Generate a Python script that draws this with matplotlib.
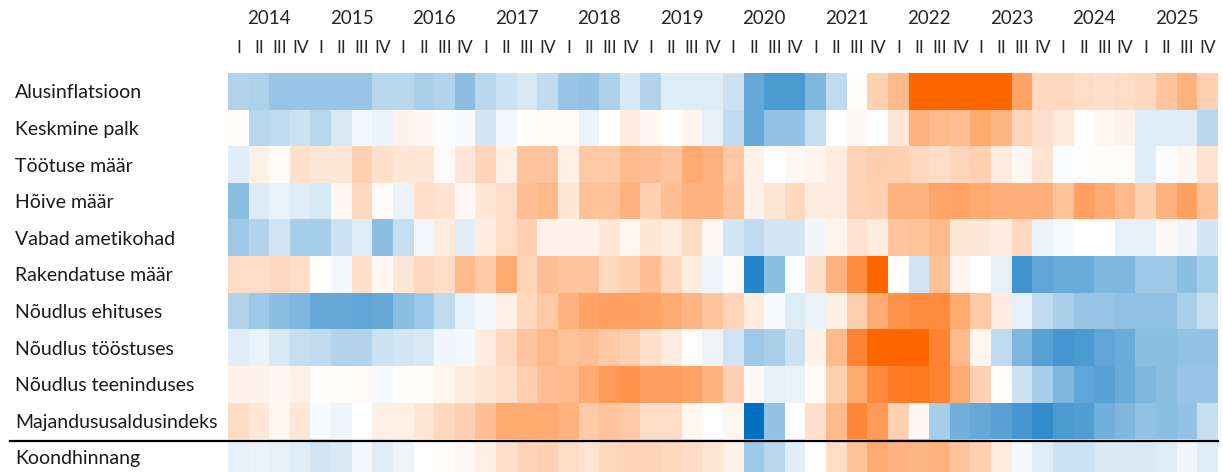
import numpy as np
import matplotlib
matplotlib.use("Agg")
import matplotlib.pyplot as plt
from matplotlib.colors import LinearSegmentedColormap
from matplotlib.lines import Line2D

years = [str(y) for y in range(2014, 2026)]
quarters = ["I", "II", "III", "IV"]

indicators = ["Alusinflatsioon", "Keskmine palk", "Töötuse määr", "Hõive määr",
              "Vabad ametikohad", "Rakendatuse määr", "Nõudlus ehituses",
              "Nõudlus tööstuses", "Nõudlus teeninduses", "Majandususaldusindeks",
              "Koondhinnang"]

# scores per quarter 2014 I ... 2025 IV, -1 = strongest blue, +1 = strongest orange
alusinflatsioon = [-0.3, -0.32, -0.4, -0.4, -0.4, -0.4, -0.4, -0.28, -0.28, -0.34, -0.3, -0.45, -0.28, -0.2, -0.15, -0.25,
                   -0.4, -0.42, -0.32, -0.15, -0.3, -0.13, -0.13, -0.13, -0.2, -0.6, -0.7, -0.7, -0.5, -0.25, 0.02, 0.3,
                   0.45, 1.0, 1.0, 1.0, 1.0, 1.0, 0.6, 0.25, 0.25, 0.22, 0.2, 0.22, 0.25, 0.38, 0.5, 0.3]
keskmine_palk = [0.02, -0.28, -0.25, -0.2, -0.28, -0.15, -0.04, -0.08, 0.08, 0.04, -0.02, -0.03, -0.17, -0.05, 0.01, 0.03,
                 0.03, -0.08, 0.0, 0.12, 0.05, 0.0, 0.07, -0.1, -0.25, -0.6, -0.42, -0.42, -0.22, 0.0, 0.04, 0.0,
                 0.15, 0.5, 0.45, 0.42, 0.55, 0.48, 0.28, 0.2, 0.14, 0.0, 0.06, 0.08, -0.13, -0.13, -0.13, -0.28]
tootuse_maar = [-0.12, 0.1, 0.03, 0.2, 0.15, 0.15, 0.3, 0.2, 0.15, 0.15, 0.03, 0.15, 0.28, 0.1, 0.38, 0.38,
                0.1, 0.35, 0.35, 0.45, 0.42, 0.38, 0.55, 0.5, 0.35, 0.08, 0.0, 0.05, 0.07, 0.12, 0.28, 0.32,
                0.3, 0.25, 0.22, 0.27, 0.3, 0.12, 0.05, 0.18, -0.02, 0.01, 0.02, 0.02, -0.12, -0.02, 0.06, 0.18]
hoive_maar = [-0.45, -0.14, -0.08, -0.12, -0.16, 0.05, 0.25, 0.03, -0.08, 0.2, 0.18, 0.04, 0.15, 0.22, 0.42, 0.45,
              0.15, 0.4, 0.4, 0.5, 0.3, 0.42, 0.5, 0.5, 0.38, 0.08, 0.15, 0.25, 0.12, 0.12, 0.28, 0.3,
              0.5, 0.5, 0.58, 0.6, 0.55, 0.52, 0.52, 0.52, 0.4, 0.62, 0.55, 0.45, 0.3, 0.5, 0.62, 0.4]
vabad_ametikohad = [-0.38, -0.3, -0.18, -0.35, -0.35, -0.2, -0.13, -0.45, -0.22, -0.05, 0.12, -0.12, 0.12, 0.22, 0.3, 0.08,
                    0.08, 0.08, 0.15, 0.06, 0.15, 0.12, 0.22, 0.04, -0.17, -0.25, -0.17, -0.17, -0.06, 0.07, 0.18, 0.12,
                    0.38, 0.4, 0.45, 0.15, 0.15, 0.12, 0.25, -0.08, -0.03, 0.0, 0.0, -0.1, -0.1, 0.04, -0.06, -0.17]
rakendatuse_maar = [0.22, 0.22, 0.25, 0.22, 0.0, -0.04, 0.2, 0.05, 0.15, 0.25, 0.22, 0.45, 0.35, 0.55, 0.28, 0.42,
                    0.38, 0.38, 0.25, 0.3, 0.42, 0.25, 0.12, -0.07, 0.03, -0.85, -0.45, -0.01, 0.2, 0.5, 0.75, 1.0,
                    0.02, -0.18, 0.4, 0.07, 0.0, -0.1, -0.75, -0.62, -0.58, -0.58, -0.5, -0.5, -0.38, -0.38, -0.45, -0.35]
noudlus_ehituses = [-0.3, -0.38, -0.45, -0.5, -0.6, -0.6, -0.62, -0.6, -0.45, -0.38, -0.25, -0.1, -0.04, 0.1, 0.25, 0.35,
                    0.5, 0.6, 0.62, 0.62, 0.6, 0.55, 0.48, 0.38, 0.28, 0.12, -0.03, -0.13, -0.08, 0.1, 0.32, 0.55,
                    0.7, 0.75, 0.75, 0.55, 0.35, 0.12, -0.1, -0.25, -0.33, -0.4, -0.4, -0.43, -0.43, -0.43, -0.33, -0.22]
noudlus_toostuses = [-0.12, -0.08, -0.16, -0.22, -0.25, -0.3, -0.3, -0.2, -0.17, -0.15, -0.06, -0.04, 0.12, 0.25, 0.38, 0.45,
                     0.4, 0.42, 0.35, 0.3, 0.2, 0.12, 0.01, -0.07, -0.18, -0.38, -0.33, -0.2, 0.08, 0.45, 0.8, 1.0,
                     1.0, 1.0, 0.8, 0.45, 0.06, -0.25, -0.5, -0.65, -0.72, -0.7, -0.62, -0.58, -0.45, -0.45, -0.42, -0.42]
noudlus_teeninduses = [0.08, 0.08, 0.05, 0.1, 0.01, 0.01, 0.03, -0.03, 0.01, 0.02, 0.06, 0.12, 0.15, 0.2, 0.32, 0.42,
                       0.45, 0.55, 0.65, 0.7, 0.62, 0.62, 0.6, 0.5, 0.3, 0.04, -0.1, -0.08, 0.03, 0.3, 0.55, 0.75,
                       0.85, 0.88, 0.8, 0.55, 0.3, 0.02, -0.2, -0.35, -0.5, -0.62, -0.65, -0.58, -0.5, -0.45, -0.4, -0.4]
majandususaldus = [0.22, 0.15, 0.06, 0.15, -0.03, -0.07, 0.0, 0.1, 0.1, 0.17, 0.25, 0.3, 0.42, 0.55, 0.55, 0.55,
                   0.5, 0.35, 0.38, 0.35, 0.22, 0.22, 0.06, 0.0, 0.06, -1.0, -0.42, 0.0, 0.2, 0.45, 0.78, 0.65,
                   0.3, 0.05, -0.35, -0.55, -0.6, -0.65, -0.72, -0.8, -0.7, -0.68, -0.55, -0.5, -0.42, -0.45, -0.42, -0.22]
koondhinnang = [-0.1, -0.08, -0.1, -0.12, -0.18, -0.15, -0.05, -0.12, -0.07, 0.0, 0.02, 0.04, 0.1, 0.2, 0.28, 0.3,
                0.22, 0.18, 0.25, 0.28, 0.28, 0.25, 0.22, 0.15, 0.08, -0.38, -0.28, -0.12, 0.0, 0.22, 0.4, 0.55,
                0.5, 0.48, 0.5, 0.38, 0.3, 0.13, -0.04, -0.13, -0.2, -0.2, -0.15, -0.15, -0.15, -0.12, -0.06, -0.12]

data = np.array([alusinflatsioon, keskmine_palk, tootuse_maar, hoive_maar, vabad_ametikohad,
                 rakendatuse_maar, noudlus_ehituses, noudlus_toostuses, noudlus_teeninduses,
                 majandususaldus, koondhinnang])

cmap = LinearSegmentedColormap.from_list("bwo", ["#0070C0", "#FFFFFF", "#FF6600"])
plt.rcParams['font.family'] = ['Lato', 'DejaVu Sans']

W, H = 1223, 472
fig = plt.figure(figsize=(W / 100, H / 100), dpi=100)
row_h = 36.6
left, top = 228, 73
ax = fig.add_axes([left / W, 1 - (top + row_h * 11) / H, 990 / W, row_h * 11 / H])
ax.imshow(data, cmap=cmap, vmin=-1, vmax=1, aspect='auto', interpolation='nearest')
ax.set_xlim(-0.5, 47.5)
ax.set_ylim(10.5, -0.5)
for s in ax.spines.values():
    s.set_visible(False)
ax.set_xticks([])
ax.set_yticks(range(len(indicators)))
ax.set_yticklabels(indicators, ha='left', fontsize=14, color='#1a1a1a')
ax.tick_params(axis='y', length=0, pad=(left - 15) * 72 / 100)

txt = '#262626'
for i, y in enumerate(years):
    ax.text(4 * i + 1.5, -0.5 - (top - 18) / row_h, y, ha='center', va='center',
            fontsize=13.5, color=txt, clip_on=False)
    for q, lab in enumerate(quarters):
        ax.text(4 * i + q, -0.5 - (top - 48) / row_h, lab, ha='center', va='center',
                fontsize=12.5, color=txt, clip_on=False)

y_line = 1 - 440.5 / H
fig.add_artist(Line2D([10 / W, 1218 / W], [y_line, y_line], color='black', lw=1.6))

fig.savefig("out.png", dpi=100)
